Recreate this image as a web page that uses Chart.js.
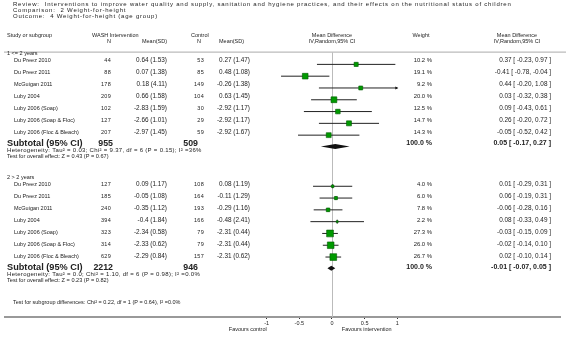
<!DOCTYPE html>
<html>
<head>
<meta charset="utf-8">
<script src="https://cdn.jsdelivr.net/npm/chart.js@4"></script>
<style>
html, body { margin: 0; padding: 0; background: #fff; }
#wrap { width: 566px; height: 341px; position: relative; }
</style>
</head>
<body>
<div id="wrap"><canvas id="forest"></canvas></div>
<script>
var studies = ['Du Preez 2010', 'Du Preez 2011', 'McGuigan 2011', 'Luby 2004', 'Luby 2006 (Soap)', 'Luby 2006 (Soap & Floc)', 'Luby 2006 (Floc & Bleach)'];
var groupNames = ['1 <= 2 years', '2 > 2 years'];

// subgroup 1: <= 2 years
var washN1 = [44, 88, 178, 209, 102, 127, 207];
var washMean1 = [0.64, 0.07, 0.18, 0.66, -2.83, -2.66, -2.97];
var washSd1 = [1.53, 1.38, 4.11, 1.58, 1.59, 1.01, 1.45];
var ctrlN1 = [53, 85, 149, 104, 30, 29, 59];
var ctrlMean1 = [0.27, 0.48, -0.26, 0.63, -2.92, -2.92, -2.92];
var ctrlSd1 = [1.47, 1.08, 1.38, 1.45, 1.17, 1.17, 1.67];
var weight1 = [10.2, 19.1, 9.2, 20.0, 12.5, 14.7, 14.3];
var md1 = [0.37, -0.41, 0.44, 0.03, 0.09, 0.26, -0.05];
var lo1 = [-0.23, -0.78, -0.20, -0.32, -0.43, -0.20, -0.52];
var hi1 = [0.97, -0.04, 1.08, 0.38, 0.61, 0.72, 0.42];

// subgroup 2: > 2 years
var washN2 = [127, 185, 240, 394, 323, 314, 629];
var washMean2 = [0.09, -0.05, -0.35, -0.4, -2.34, -2.33, -2.29];
var washSd2 = [1.17, 1.08, 1.12, 1.84, 0.58, 0.62, 0.84];
var ctrlN2 = [108, 164, 193, 166, 79, 79, 157];
var ctrlMean2 = [0.08, -0.11, -0.29, -0.48, -2.31, -2.31, -2.31];
var ctrlSd2 = [1.19, 1.29, 1.16, 2.41, 0.44, 0.44, 0.62];
var weight2 = [4.0, 6.0, 7.8, 2.2, 27.3, 26.0, 26.7];
var md2 = [0.01, 0.06, -0.06, 0.08, -0.03, -0.02, 0.02];
var lo2 = [-0.29, -0.19, -0.28, -0.33, -0.15, -0.14, -0.10];
var hi2 = [0.31, 0.31, 0.16, 0.49, 0.09, 0.10, 0.14];

var subWashN = [955, 2212];
var subCtrlN = [509, 946];
var subMd = [0.05, -0.01];
var subLo = [-0.17, -0.07];
var subHi = [0.27, 0.05];
var heterogeneity = ['Heterogeneity: Tau\u00b2 = 0.03; Chi\u00b2 = 9.37, df = 6 (P = 0.15); I\u00b2 =36%',
                     'Heterogeneity: Tau\u00b2 = 0.0; Chi\u00b2 = 1.10, df = 6 (P = 0.98); I\u00b2 =0.0%'];
var overallTest = ['Test for overall effect: Z = 0.43 (P = 0.67)', 'Test for overall effect: Z = 0.23 (P = 0.82)'];
var subgroupTest = 'Test for subgroup differences: Chi\u00b2 = 0.22, df = 1 (P = 0.64), I\u00b2 =0.0%';

var tickValues = [-1, -0.5, 0, 0.5, 1];
var tickLabels = ['-1', '-0.5', '0', '0.5', '1'];

var titleLines = ['Review:  Interventions to improve water quality and supply, sanitation and hygiene practices, and their effects on the nutritional status of children',
                  'Comparison:  2 Weight-for-height',
                  'Outcome:  4 Weight-for-height (age group)'];

var groups = [
    {n1: washN1, m1: washMean1, s1: washSd1, n2: ctrlN1, m2: ctrlMean1, s2: ctrlSd1, w: weight1, md: md1, lo: lo1, hi: hi1},
    {n1: washN2, m1: washMean2, s1: washSd2, n2: ctrlN2, m2: ctrlMean2, s2: ctrlSd2, w: weight2, md: md2, lo: lo2, hi: hi2}
];

// layout (in canvas px on the hidden y scale)
var FONT = '"Liberation Sans", Arial, sans-serif';
var firstRow = [60, 184];
var ROW = 12;
function rowY(g, i) { return firstRow[g] + i * ROW; }
function subY(g) { return rowY(g, 7) - 0.5; }
var axisMax = 1;

function f2(v) { return v.toFixed(2); }
function ci(m, l, h) { return f2(m) + ' [ ' + f2(l) + ', ' + f2(h) + ' ]'; }

var squares = [];
var radii = [];
var ciSets = [];
groups.forEach((g, gi) => {
    g.md.forEach((m, i) => {
        var y = rowY(gi, i);
        squares.push({x: m, y: y});
        radii.push(1.3 * Math.sqrt(g.w[i]) / Math.SQRT2);
        ciSets.push({
            type: 'line',
            data: [{x: g.lo[i], y: y}, {x: Math.min(g.hi[i], axisMax), y: y}],
            borderColor: '#222',
            borderWidth: 1,
            pointRadius: 0
        });
    });
});

function txt(ctx, s, x, y, align, font, spacing) {
    ctx.font = font;
    ctx.textAlign = align;
    ctx.letterSpacing = (spacing || 0) + 'px';
    ctx.fillText(s, x, y);
}

var forestPlugin = {
    id: 'forest',
    beforeDatasetsDraw(chart) {
        const ctx = chart.ctx, xs = chart.scales.x, ys = chart.scales.y;
        ctx.save();
        // zero line
        ctx.strokeStyle = '#bbb';
        ctx.lineWidth = 1;
        var x0 = Math.round(xs.getPixelForValue(0)) + 0.5;
        ctx.beginPath();
        ctx.moveTo(x0, ys.getPixelForValue(48));
        ctx.lineTo(x0, ys.getPixelForValue(317));
        ctx.stroke();
        // header rule
        ctx.strokeStyle = '#aaa';
        ctx.beginPath();
        ctx.moveTo(4, ys.getPixelForValue(47) + 0.5);
        ctx.lineTo(566, ys.getPixelForValue(47) + 0.5);
        ctx.stroke();
        // point estimate ticks
        ctx.strokeStyle = '#222';
        groups.forEach((g, gi) => {
            g.md.forEach((m, i) => {
                var px = xs.getPixelForValue(m), py = ys.getPixelForValue(rowY(gi, i));
                ctx.beginPath();
                ctx.moveTo(px, py - 2);
                ctx.lineTo(px, py + 2);
                ctx.stroke();
            });
        });
        ctx.restore();
    },
    afterDatasetsDraw(chart) {
        const ctx = chart.ctx, xs = chart.scales.x, ys = chart.scales.y;
        ctx.save();
        ctx.fillStyle = '#111';
        // arrows for clipped intervals
        groups.forEach((g, gi) => {
            g.hi.forEach((h, i) => {
                if (h > axisMax) {
                    var px = xs.getPixelForValue(axisMax), py = ys.getPixelForValue(rowY(gi, i));
                    ctx.beginPath();
                    ctx.moveTo(px + 1, py);
                    ctx.lineTo(px - 2, py - 1.5);
                    ctx.lineTo(px - 2, py + 1.5);
                    ctx.closePath();
                    ctx.fill();
                }
            });
        });
        // subtotal diamonds
        subMd.forEach((m, gi) => {
            var py = ys.getPixelForValue(subY(gi));
            ctx.beginPath();
            ctx.moveTo(xs.getPixelForValue(subLo[gi]), py);
            ctx.lineTo(xs.getPixelForValue(m), py - 2.5);
            ctx.lineTo(xs.getPixelForValue(subHi[gi]), py);
            ctx.lineTo(xs.getPixelForValue(m), py + 2.5);
            ctx.closePath();
            ctx.fill();
        });

        // text
        var reg = '5.5px ' + FONT;
        var num = '6.4px ' + FONT;
        ctx.fillStyle = '#222';
        ctx.textBaseline = 'middle';
        titleLines.forEach((s, i) => txt(ctx, s, 13, 4.5 + i * 5.8, 'left', '6px ' + FONT, 0.78));

        txt(ctx, 'Study or subgroup', 7, 35.5, 'left', reg);
        txt(ctx, 'WASH Intervention', 92, 35.5, 'left', reg);
        txt(ctx, 'N', 111, 41.5, 'right', reg);
        txt(ctx, 'Mean(SD)', 167, 41.5, 'right', reg);
        txt(ctx, 'Control', 191, 35.5, 'left', reg);
        txt(ctx, 'N', 201, 41.5, 'right', reg);
        txt(ctx, 'Mean(SD)', 219, 41.5, 'left', reg);
        var xc = xs.getPixelForValue(0);
        txt(ctx, 'Mean Difference', xc, 35.5, 'center', reg);
        txt(ctx, 'IV,Random,95% CI', xc, 41.5, 'center', reg);
        txt(ctx, 'Weight', 421, 35.5, 'center', reg);
        txt(ctx, 'Mean Difference', 517, 35.5, 'center', reg);
        txt(ctx, 'IV,Random,95% CI', 517, 41.5, 'center', reg);

        groups.forEach((g, gi) => {
            txt(ctx, groupNames[gi], 7, rowY(gi, 0) - 6.5, 'left', reg);
            studies.forEach((s, i) => {
                var y = rowY(gi, i);
                txt(ctx, s, 14, y, 'left', reg);
                txt(ctx, String(g.n1[i]), 111, y, 'right', reg, 0.3);
                txt(ctx, g.m1[i] + ' (' + g.s1[i] + ')', 167, y, 'right', num);
                txt(ctx, String(g.n2[i]), 204, y, 'right', reg, 0.3);
                txt(ctx, g.m2[i] + ' (' + g.s2[i] + ')', 250, y, 'right', num);
                txt(ctx, g.w[i].toFixed(1) + ' %', 432, y, 'right', '5.9px ' + FONT);
                txt(ctx, ci(g.md[i], g.lo[i], g.hi[i]), 551, y, 'right', num);
            });
            var sy = subY(gi);
            txt(ctx, 'Subtotal (95% CI)', 7, sy, 'left', 'bold 9.2px ' + FONT);
            txt(ctx, String(subWashN[gi]), 113, sy, 'right', 'bold 8.8px ' + FONT);
            txt(ctx, String(subCtrlN[gi]), 198, sy, 'right', 'bold 8.8px ' + FONT);
            txt(ctx, '100.0 %', 432, sy, 'right', 'bold 7px ' + FONT);
            txt(ctx, ci(subMd[gi], subLo[gi], subHi[gi]), 551, sy, 'right', 'bold 7px ' + FONT);
            txt(ctx, heterogeneity[gi], 7, sy + 7, 'left', '6px ' + FONT, 0.3);
            txt(ctx, overallTest[gi], 7, sy + 13, 'left', '5.6px ' + FONT);
        });
        txt(ctx, subgroupTest, 13, 302, 'left', reg);

        txt(ctx, 'Favours control', xs.getPixelForValue(-1), 329.5, 'right', reg);
        txt(ctx, 'Favours intervention', xs.getPixelForValue(0.15), 329.5, 'left', reg);
        ctx.restore();
    }
};

var ctx = document.getElementById('forest').getContext('2d');
var chart = new Chart(ctx, {
    type: 'scatter',
    data: {
        datasets: [{
            data: squares,
            pointStyle: 'rect',
            pointRadius: radii,
            backgroundColor: '#009a00',
            borderColor: '#005a00',
            borderWidth: 0.6
        }].concat(ciSets)
    },
    options: {
        responsive: true,
        maintainAspectRatio: false,
        animation: false,
        events: [],
        layout: { padding: 0 },
        scales: {
            x: {
                type: 'linear',
                min: -5,
                max: 3.5,
                afterBuildTicks: s => { s.ticks = tickValues.map(v => ({value: v})); },
                afterFit: s => { s.height = 24; },
                border: { color: '#999', width: 2 },
                grid: { drawOnChartArea: false, drawTicks: true, tickLength: 2, color: '#333' },
                ticks: {
                    autoSkip: false,
                    maxRotation: 0,
                    padding: 1,
                    color: '#222',
                    font: { size: 5.5, family: FONT },
                    callback: (v, i) => tickLabels[tickValues.indexOf(v)]
                }
            },
            y: { type: 'linear', display: false, min: 0, max: 317, reverse: true }
        },
        plugins: {
            legend: { display: false },
            tooltip: { enabled: false }
        }
    },
    plugins: [forestPlugin]
});
</script>
</body>
</html>
